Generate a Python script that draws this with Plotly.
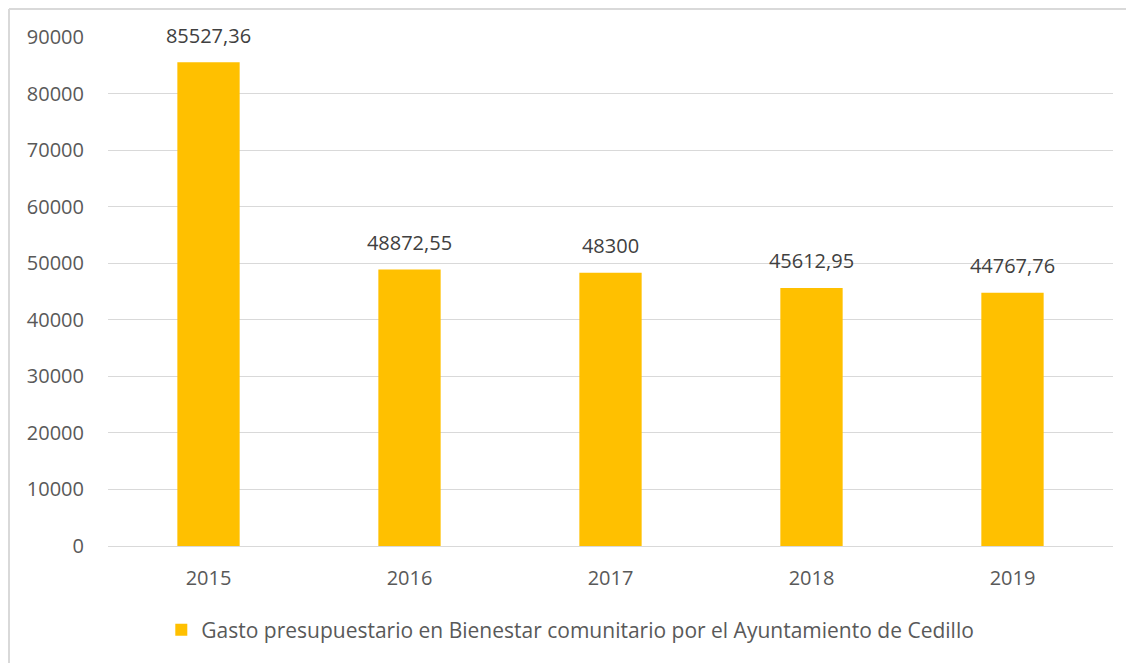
import plotly.graph_objects as go

years = ["2015", "2016", "2017", "2018", "2019"]
gasto = [85527.36, 48872.55, 48300, 45612.95, 44767.76]
labels = ["85527,36", "48872,55", "48300", "45612,95", "44767,76"]
serie = "Gasto presupuestario en Bienestar comunitario por el Ayuntamiento de Cedillo"

fig = go.Figure()
fig.add_trace(go.Bar(
    x=years, y=gasto, name=serie,
    marker=dict(color="#FFC000", line_width=0),
))
# data labels above the bars (invisible markers give the offset)
fig.add_trace(go.Scatter(
    x=years, y=gasto, text=labels, mode="markers+text",
    textposition="top center", cliponaxis=False, showlegend=False,
    hoverinfo="skip", marker=dict(size=22, opacity=0),
    textfont=dict(size=20, color="#404040"),
))

fig.update_layout(
    width=1126, height=655,
    margin=dict(l=100, r=21, t=29, b=117, autoexpand=False),
    paper_bgcolor="white", plot_bgcolor="white",
    font=dict(family="Open Sans, Lato, sans-serif", size=20, color="#595959"),
    bargap=0.69,
    showlegend=True,
    legend=dict(orientation="h", x=0.46, xanchor="center", y=-0.165, yanchor="middle",
                font=dict(size=21, color="#595959"), itemwidth=30),
)
fig.update_yaxes(range=[0, 90000], dtick=10000, tickformat="d", showgrid=True,
                 gridcolor="#D9D9D9", gridwidth=1, zeroline=False, ticks="",
                 ticklabelstandoff=23, automargin=False,
                 tickfont=dict(size=20, color="#595959"))
fig.update_xaxes(type="category", range=[-0.5, 4.5], showline=True,
                 linecolor="#D9D9D9", linewidth=1, ticks="",
                 tickfont=dict(size=20, color="#595959"),
                 ticklabelstandoff=14, automargin=False)

# chart border (left and top edges visible)
fig.add_shape(type="line", xref="paper", yref="paper",
              x0=-0.0985, x1=-0.0985, y0=-0.3, y1=1.055,
              line=dict(color="#D9D9D9", width=2))
fig.add_shape(type="line", xref="paper", yref="paper",
              x0=-0.0985, x1=1.03, y0=1.055, y1=1.055,
              line=dict(color="#D9D9D9", width=2))

fig.write_html("out.html")
